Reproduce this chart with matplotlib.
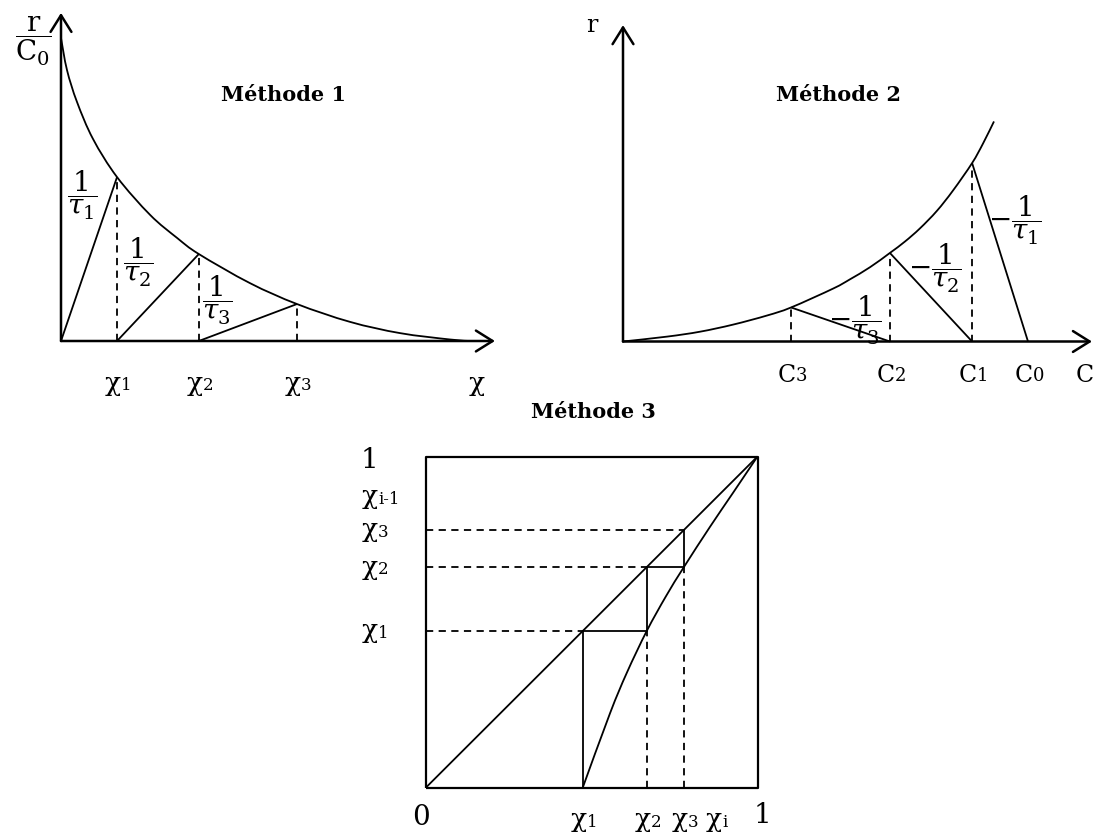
import matplotlib.pyplot as plt
from matplotlib.path import Path
from matplotlib.patches import PathPatch

W, H = 1101, 836

plt.rcParams['font.family'] = 'DejaVu Serif'
plt.rcParams['mathtext.fontset'] = 'dejavuserif'

# Méthode 1 : r/C0 en fonction de l'avancement chi
m1_x = [0, 0.0147, 0.0391, 0.0782, 0.137, 0.218, 0.284, 0.337, 0.462, 0.577, 0.707, 0.829, 0.951, 1.0]
m1_r = [1.0, 0.894, 0.789, 0.667, 0.541, 0.416, 0.340, 0.287, 0.191, 0.122, 0.063, 0.026, 0.005, 0.0]
m1_chi = [0.137, 0.337, 0.577]
m1_rchi = [0.541, 0.287, 0.122]

# Méthode 2 : r en fonction de la concentration C
m2_c = [0, 0.109, 0.190, 0.272, 0.356, 0.415, 0.519, 0.560, 0.610, 0.659, 0.696, 0.733, 0.775, 0.815, 0.862, 0.889, 0.916]
m2_r = [0, 0.022, 0.044, 0.076, 0.117, 0.153, 0.238, 0.279, 0.334, 0.398, 0.449, 0.508, 0.587, 0.679, 0.802, 0.890, 0.989]
m2_cs = [1.0, 0.862, 0.659, 0.415]   # C0, C1, C2, C3
m2_rc = [0.802, 0.398, 0.153]        # r(C1), r(C2), r(C3)

# Méthode 3 : construction graphique en escalier
m3_chi = [0.473, 0.666, 0.778]
m3_x = [0.473, 0.555, 0.606, 0.666, 0.724, 0.778, 0.857, 0.926, 1.0]
m3_y = [0, 0.224, 0.347, 0.473, 0.578, 0.666, 0.788, 0.890, 1.0]

LW = 1.3
DASH = (0, (4, 3))
ARROW = dict(arrowstyle='->,head_length=0.4,head_width=0.25', lw=1.8, color='black',
             mutation_scale=30, shrinkA=0, shrinkB=0)

fig = plt.figure(figsize=(W / 100, H / 100), dpi=100)


def panel(x0, y0, w, h):
    # x0, y0 : origin in pixels from the top-left corner
    ax = fig.add_axes([x0 / W, 1 - y0 / H, w / W, h / H])
    ax.set_xlim(0, 1)
    ax.set_ylim(0, 1)
    ax.set_autoscale_on(False)
    ax.axis('off')
    return ax


def line(ax, xs, ys, dashed=False, lw=LW):
    ax.plot(xs, ys, color='black', lw=lw, ls=DASH if dashed else '-',
            clip_on=False, solid_capstyle='butt')


def smooth(ax, xs, ys, lw=LW):
    # cubic Bezier segments through every point (Catmull-Rom tangents)
    pts = list(zip(xs, ys))
    n = len(pts)
    verts, codes = [pts[0]], [Path.MOVETO]
    for i in range(n - 1):
        p0 = pts[max(i - 1, 0)]
        p1, p2 = pts[i], pts[i + 1]
        p3 = pts[min(i + 2, n - 1)]
        c1 = (p1[0] + (p2[0] - p0[0]) / 6, p1[1] + (p2[1] - p0[1]) / 6)
        c2 = (p2[0] - (p3[0] - p1[0]) / 6, p2[1] - (p3[1] - p1[1]) / 6)
        verts += [c1, c2, p2]
        codes += [Path.CURVE4] * 3
    ax.add_patch(PathPatch(Path(verts, codes), fc='none', ec='black', lw=lw, clip_on=False))


def arrow(ax, x, y):
    ax.annotate('', xy=(x, y), xytext=(0, 0), arrowprops=ARROW, annotation_clip=False)


def sub_label(ax, x, y, base, sub, size=19, subsize=12, dx=-3, ha='center'):
    t = ax.annotate(base, xy=(x, y), xytext=(dx, 0), textcoords='offset points',
                    ha=ha, va='center', fontsize=size, annotation_clip=False)
    ax.annotate(sub, xy=(1, 0.06), xycoords=t, ha='left', va='bottom', fontsize=subsize,
                annotation_clip=False)


# ---------------- Méthode 1 ----------------
ax1 = panel(61, 341, 409, 303)
arrow(ax1, 0, 1.083)
arrow(ax1, 1.061, 0)
smooth(ax1, m1_x, m1_r)
starts = [0] + m1_chi[:-1]
for s, c, r in zip(starts, m1_chi, m1_rchi):
    line(ax1, [s, c], [0, r])
    line(ax1, [c, c], [0, r], dashed=True)
for i, c in enumerate(m1_chi):
    sub_label(ax1, c, -0.14, 'χ', str(i + 1))
ax1.text(1.017, -0.14, 'χ', fontsize=19, ha='center', va='center')
ax1.text(-0.068, 0.99, r'$\dfrac{\mathrm{r}}{\mathrm{C}_0}$', fontsize=20, ha='center', va='center')
ax1.text(0.543, 0.812, 'Méthode 1', fontsize=15, fontweight='bold', ha='center', va='center')
for i, (x, y) in enumerate([(0.051, 0.482), (0.188, 0.261), (0.381, 0.135)]):
    ax1.text(x, y, r'$\dfrac{1}{\tau_%d}$' % (i + 1), fontsize=20, ha='center', va='center')

# ---------------- Méthode 2 ----------------
ax2 = panel(623, 341.5, 405, 222.5)
arrow(ax2, 0, 1.422)
arrow(ax2, 1.158, 0)
smooth(ax2, m2_c, m2_r)
for s, c, r in zip(m2_cs[:-1], m2_cs[1:], m2_rc):
    line(ax2, [s, c], [0, r])
    line(ax2, [c, c], [0, r], dashed=True)
for i, c in enumerate(m2_cs):
    sub_label(ax2, c, -0.151, 'C', str(i), size=17, subsize=13)
ax2.text(1.141, -0.151, 'C', fontsize=17, ha='center', va='center')
ax2.text(-0.077, 1.422, 'r', fontsize=17, ha='center', va='center')
ax2.text(0.531, 1.108, 'Méthode 2', fontsize=15, fontweight='bold', ha='center', va='center')
for i, (x, y) in enumerate([(0.968, 0.546), (0.770, 0.330), (0.573, 0.097)]):
    ax2.text(x, y, r'$-\dfrac{1}{\tau_%d}$' % (i + 1), fontsize=20, ha='center', va='center')

# ---------------- Méthode 3 ----------------
ax3 = panel(426, 787.5, 331.5, 331)
line(ax3, [0, 1, 1, 0, 0], [0, 0, 1, 1, 0], lw=1.6)
line(ax3, [0, 1], [0, 1])
smooth(ax3, m3_x, m3_y)
sx, sy = [m3_chi[0]], [0]
for i, c in enumerate(m3_chi):
    sx.append(c)
    sy.append(c)
    if i + 1 < len(m3_chi):
        sx.append(m3_chi[i + 1])
        sy.append(c)
line(ax3, sx, sy)
for c in m3_chi:
    line(ax3, [0, c], [c, c], dashed=True)
for prev, c in zip(m3_chi[:-1], m3_chi[1:]):
    line(ax3, [c, c], [0, prev], dashed=True)

ax3.text(0.504, 1.134, 'Méthode 3', fontsize=15, fontweight='bold', ha='center', va='center')
ax3.text(-0.172, 0.989, '1', fontsize=20, ha='center', va='center')
sub_label(ax3, -0.193, 0.878, 'χ', 'i-1', dx=0, ha='left')
for i, c in enumerate(m3_chi):
    sub_label(ax3, -0.193, c, 'χ', str(i + 1), dx=0, ha='left')
    sub_label(ax3, c, -0.098, 'χ', str(i + 1))
sub_label(ax3, 0.881, -0.098, 'χ', 'i')
ax3.text(-0.015, -0.092, '0', fontsize=20, ha='center', va='center')
ax3.text(1.014, -0.085, '1', fontsize=20, ha='center', va='center')

fig.savefig('out.png', dpi=100)
